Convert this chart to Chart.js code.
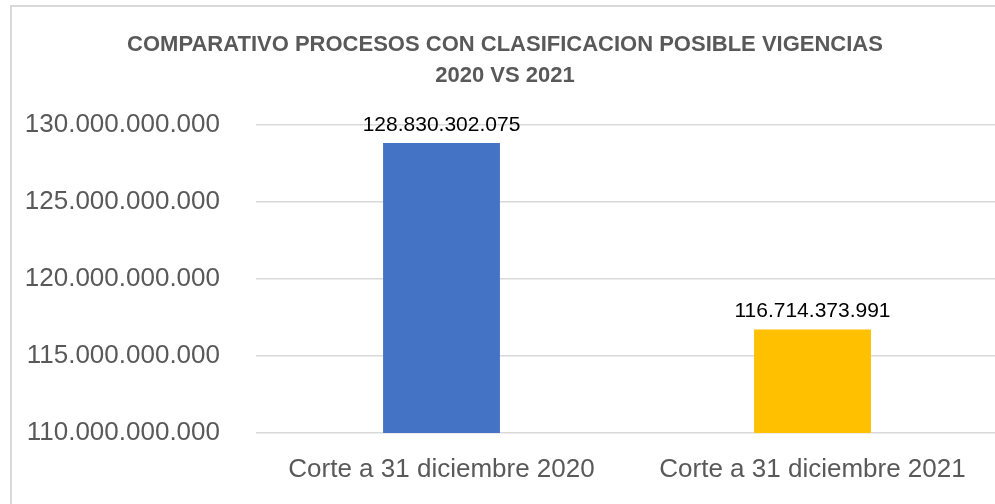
<!DOCTYPE html>
<html lang="es">
<head>
  <meta charset="UTF-8" />
  <title>Comparativo procesos</title>
  <script src="https://cdn.jsdelivr.net/npm/chart.js"></script>
  <style>
    html,body{margin:0;padding:0;background:#fff;overflow:hidden;}
    #box{position:absolute;left:10px;top:5px;width:1000px;height:520px;border:2px solid #D9D9D9;}
    canvas{display:block;}
  </style>
</head>
<body>
  <div id="box"><canvas id="chart" width="1000" height="520"></canvas></div>
  <script>
    const titleLines = ['COMPARATIVO PROCESOS CON CLASIFICACION POSIBLE VIGENCIAS', '2020 VS 2021'];
    const categories = ['Corte a 31 diciembre 2020', 'Corte a 31 diciembre 2021'];
    const values = [128830302075, 116714373991];
    const barColors = ['#4472C4', '#FFC000'];
    const yMin = 110000000000, yMax = 130000000000, yStep = 5000000000;

    const fmt = v => String(Math.round(v)).replace(/\B(?=(\d{3})+(?!\d))/g, '.');
    const FONT = "'Liberation Sans', Arial, sans-serif";

    // labels above bars
    const barLabels = {
      id: 'barLabels',
      afterDatasetsDraw(chart) {
        const ctx = chart.ctx;
        ctx.save();
        ctx.font = '21px ' + FONT;
        ctx.fillStyle = '#000';
        ctx.textAlign = 'center';
        ctx.textBaseline = 'middle';
        chart.getDatasetMeta(0).data.forEach((bar, i) => {
          ctx.fillText(fmt(values[i]), bar.x, bar.y - 18);
        });
        ctx.restore();
      }
    };

    new Chart(document.getElementById('chart').getContext('2d'), {
      type: 'bar',
      data: {
        labels: categories,
        datasets: [{ data: values, backgroundColor: barColors, categoryPercentage: 1, barPercentage: 0.315 }]
      },
      options: {
        responsive: false,
        animation: false,
        layout: { padding: { left: 0, right: 14, top: 0, bottom: 0 } },
        plugins: {
          legend: { display: false },
          tooltip: { enabled: false },
          title: {
            display: true,
            text: titleLines,
            color: '#595959',
            font: { family: FONT, size: 22, weight: 'bold', lineHeight: 1.43 },
            padding: { top: 22, bottom: 33 }
          }
        },
        scales: {
          x: {
            grid: { display: false, drawTicks: false },
            border: { display: false },
            ticks: { color: '#595959', font: { family: FONT, size: 26 }, padding: 21, maxRotation: 0 },
            afterFit(axis) { axis.height = 94; }
          },
          y: {
            min: yMin, max: yMax,
            grid: { color: '#D9D9D9', lineWidth: 1.5, drawTicks: false },
            border: { display: false },
            ticks: { stepSize: yStep, color: '#595959', font: { family: FONT, size: 26 }, padding: 36, callback: v => fmt(v) },
            afterFit(axis) { axis.width = 244; }
          }
        }
      },
      plugins: [barLabels]
    });
  </script>
</body>
</html>
